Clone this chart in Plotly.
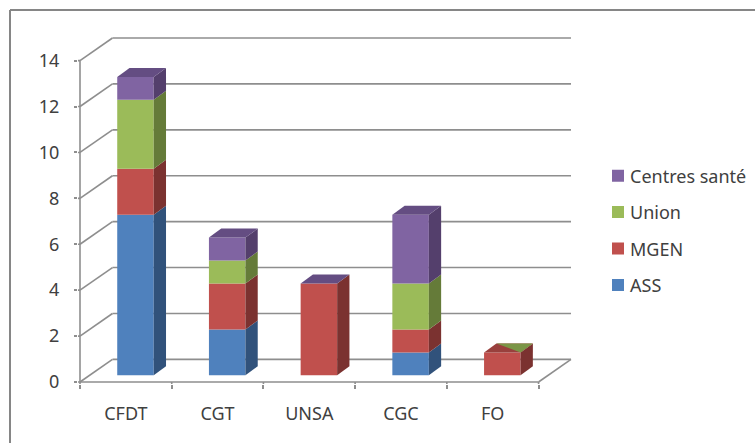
import plotly.graph_objects as go

categories = ["CFDT", "CGT", "UNSA", "CGC", "FO"]
series_names = ["ASS", "MGEN", "Union", "Centres santé"]
ass = [7, 2, 0, 1, 0]
mgen = [2, 2, 4, 1, 1]
union = [3, 1, 0, 2, 0]
centres = [1, 1, 0, 3, 0]
y_ticks = [0, 2, 4, 6, 8, 10, 12, 14]

series = [ass, mgen, union, centres]
face = ["#4F81BD", "#C0504D", "#9BBB59", "#8064A2"]
side = ["#31527B", "#7B3230", "#657B39", "#543F6C"]
roof = ["#3F6797", "#99403D", "#7B9647", "#644D82"]
FONT = "Noto Sans"
TEXT = "#404040"
GRID = "#8E8E8E"

WALL_DX, WALL_DY = 0.354, 0.985   # chart floor depth, in axis units
BAR_DX, BAR_DY = 0.134, 0.392     # column depth
FLOOR = 0.29                      # columns stand slightly inside the floor
BAR_W, BAR_SHIFT = 0.398, 0.105

W, H = 755, 443
PAD = 2                           # room so edge lines are not clipped
L, R, T, B = 80 - PAD, 184 - PAD, 38 - PAD, 61 - PAD
PW, PH = W - L - R, H - T - B
PAD_X, PAD_Y = PAD / 91.7, PAD / 22.96
px = lambda v: (v - L) / PW
py = lambda v: (H - B - v) / PH

fig = go.Figure()


def poly(xs, ys, color):
    fig.add_trace(go.Scatter(x=xs, y=ys, xaxis="x2", fill="toself", fillcolor=color,
                             mode="lines", line=dict(width=0), hoverinfo="skip",
                             showlegend=False))


# front faces
base = [FLOOR] * len(categories)
for name, vals, col in zip(series_names, series, face):
    fig.add_trace(go.Bar(x=categories, y=vals, base=list(base), name=name,
                         width=BAR_W, offset=BAR_SHIFT - BAR_W / 2,
                         marker=dict(color=col, line=dict(width=0)), showlegend=False))
    base = [b + v for b, v in zip(base, vals)]

# side faces and column tops
for i, cat in enumerate(categories):
    x0 = i + BAR_SHIFT - BAR_W / 2
    x1 = x0 + BAR_W
    h = FLOOR
    for k, vals in enumerate(series):
        v = vals[i]
        if v:
            poly([x1, x1 + BAR_DX, x1 + BAR_DX, x1, x1],
                 [h, h + BAR_DY, h + v + BAR_DY, h + v, h], side[k])
        h += v
    top_xs = [x0, x0 + BAR_DX, x1 + BAR_DX, x1, x0]
    top_ys = [h, h + BAR_DY, h + BAR_DY, h, h]
    if cat == "FO":
        poly(top_xs, top_ys, roof[1])
        poly([x0 + BAR_DX, x1 + BAR_DX, x1, x0 + BAR_DX],
             [h + BAR_DY, h + BAR_DY, h, h + BAR_DY], roof[2])
    elif centres[i] or cat == "UNSA":
        poly(top_xs, top_ys, roof[3])

# legend entries
for name, col in list(zip(series_names, face))[::-1]:
    fig.add_trace(go.Scatter(x=[None], y=[None], name=name, mode="markers",
                             legendgroup=name,
                             marker=dict(symbol="square", size=12, color=col,
                                         angle=90, standoff=8, line=dict(width=0))))

shapes = []
left, right = -0.5, len(categories) - 0.5
line = dict(color=GRID, width=1.6)
for t in y_ticks:
    shapes.append(dict(type="line", xref="x", yref="y", layer="below", line=line,
                       x0=left, y0=t, x1=left + WALL_DX, y1=t + WALL_DY))
    shapes.append(dict(type="line", xref="x", yref="y", layer="below", line=line,
                       x0=left + WALL_DX, y0=t + WALL_DY, x1=right + WALL_DX, y1=t + WALL_DY))
shapes.append(dict(type="line", xref="x", yref="y", layer="below", line=line,
                   x0=left, y0=0, x1=left, y1=max(y_ticks)))
shapes.append(dict(type="line", xref="x", yref="y", layer="below", line=line,
                   x0=left, y0=0, x1=right, y1=0))
shapes.append(dict(type="line", xref="x", yref="y", layer="below", line=line,
                   x0=right, y0=0, x1=right + WALL_DX, y1=WALL_DY))
# ticks start at the true floor edge
for b in range(len(categories) + 1):
    shapes.append(dict(type="line", xref="x", yref="y", layer="below", line=line,
                       x0=left + b, y0=0, x1=left + b, y1=-PAD_Y))
for t in y_ticks:
    shapes.append(dict(type="line", xref="x", yref="y", layer="below", line=line,
                       x0=left, y0=t, x1=left - PAD_X, y1=t))
# outer frame: left and top edges only
frame = dict(color="#868686", width=2)
shapes.append(dict(type="line", xref="paper", yref="paper", line=frame,
                   x0=px(10), y0=py(10), x1=px(W), y1=py(10)))
shapes.append(dict(type="line", xref="paper", yref="paper", line=frame,
                   x0=px(10), y0=py(10), x1=px(10), y1=py(H)))

x_range = [left - PAD_X, right + WALL_DX + PAD_X]
fig.update_layout(
    width=W, height=H, margin=dict(l=L, r=R, t=T, b=B, autoexpand=False),
    paper_bgcolor="white", plot_bgcolor="rgba(0,0,0,0)",
    barmode="overlay", shapes=shapes,
    font=dict(family=FONT, color=TEXT, size=18),
    xaxis=dict(type="category", categoryorder="array", categoryarray=categories,
               range=x_range, tickson="boundaries", ticks="outside", ticklen=4,
               tickcolor=GRID, tickwidth=1.6, showgrid=False, showline=False, zeroline=False,
               tickfont=dict(size=18), ticklabelstandoff=17),
    xaxis2=dict(overlaying="x", range=x_range, visible=False, anchor="y"),
    yaxis=dict(range=[-PAD_Y, max(y_ticks) + WALL_DY + PAD_Y], tickvals=y_ticks, ticks="outside",
               ticklen=3, tickcolor=GRID, tickwidth=1.6, showgrid=False, showline=False,
               zeroline=False, tickfont=dict(size=18), ticklabelstandoff=11),
    legend=dict(x=px(590), y=py(157.5), xanchor="left", yanchor="top",
                bgcolor="rgba(0,0,0,0)", tracegroupgap=10, font=dict(size=18)),
)

fig.write_html("out.html", config={"displayModeBar": False},
               post_script="document.body.style.margin='0';")
